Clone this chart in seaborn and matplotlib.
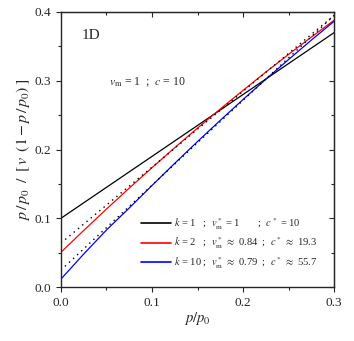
import numpy as np
import pandas as pd
import matplotlib
matplotlib.use("Agg")
import matplotlib.pyplot as plt
from matplotlib.ticker import MultipleLocator
import seaborn as sns

# === Data ===
x_pts = [0.0, 0.025, 0.05, 0.075, 0.1, 0.125, 0.15, 0.175, 0.2, 0.225, 0.25, 0.275, 0.3]
y_k1 = [0.100, 0.1225, 0.145, 0.1675, 0.190, 0.2125, 0.235, 0.2575, 0.280, 0.3025, 0.325, 0.3475, 0.370]
y_k2 = [0.0505, 0.0823, 0.1134, 0.1438, 0.1736, 0.2027, 0.2312, 0.2590, 0.2860, 0.3126, 0.3384, 0.3635, 0.3880]
y_k10 = [0.0116, 0.0480, 0.0830, 0.1150, 0.1477, 0.1800, 0.2116, 0.2425, 0.2727, 0.3022, 0.3309, 0.3591, 0.3865]

# apparent BET straight lines (dotted)
x_fit = [0.0, 0.3]
y_fit_k2 = [0.064, 0.395]
y_fit_k10 = [0.0247, 0.395]

labels = [
    r"$k$ = 1   ;  $v_\mathrm{m}^*$ = 1       ;  $c^*$ = 10",
    r"$k$ = 2   ;  $v_\mathrm{m}^*$ $\approx$ 0.84  ;  $c^*$ $\approx$ 19.3",
    r"$k$ = 10 ;  $v_\mathrm{m}^*$ $\approx$ 0.79  ;  $c^*$ $\approx$ 55.7",
]
colors = ["black", "red", "blue"]

df = pd.DataFrame({
    "x": x_pts * 3,
    "y": y_k1 + y_k2 + y_k10,
    "series": [labels[0]] * len(x_pts) + [labels[1]] * len(x_pts) + [labels[2]] * len(x_pts),
})

# === Style ===
sns.set_style("ticks")
plt.rcParams["font.family"] = ["Liberation Serif", "DejaVu Serif"]
plt.rcParams["mathtext.fontset"] = "stix"

fig = plt.figure(figsize=(3.54, 3.41), dpi=100)
ax = fig.add_axes([0.172, 0.158, 0.772, 0.807])

sns.lineplot(data=df, x="x", y="y", hue="series", palette=colors,
             linewidth=0.9, ax=ax, sort=False)
sns.lineplot(x=x_fit, y=y_fit_k2, color="black", linewidth=1.0,
             linestyle=(0, (1, 3)), ax=ax)
sns.lineplot(x=x_fit, y=y_fit_k10, color="black", linewidth=1.0,
             linestyle=(0, (1, 3)), ax=ax)

ax.set_xlim(0, 0.3)
ax.set_ylim(0, 0.4)
ax.xaxis.set_major_locator(MultipleLocator(0.1))
ax.xaxis.set_minor_locator(MultipleLocator(0.05))
ax.yaxis.set_major_locator(MultipleLocator(0.1))
ax.yaxis.set_minor_locator(MultipleLocator(0.05))
ax.xaxis.set_major_formatter(plt.FormatStrFormatter("%.1f"))
ax.yaxis.set_major_formatter(plt.FormatStrFormatter("%.1f"))
ax.tick_params(which="major", direction="out", length=3.5, width=0.8, labelsize=9.5)
ax.tick_params(which="minor", direction="out", length=2, width=0.8)

# inward ticks on top and right
top = ax.secondary_xaxis("top")
top.xaxis.set_major_locator(MultipleLocator(0.1))
top.xaxis.set_minor_locator(MultipleLocator(0.05))
top.tick_params(which="major", direction="in", length=3.5, width=0.8, labeltop=False)
top.tick_params(which="minor", direction="in", length=2, width=0.8)
right = ax.secondary_yaxis("right")
right.yaxis.set_major_locator(MultipleLocator(0.1))
right.yaxis.set_minor_locator(MultipleLocator(0.05))
right.tick_params(which="major", direction="in", length=3.5, width=0.8, labelright=False)
right.tick_params(which="minor", direction="in", length=2, width=0.8)
for sp in ax.spines.values():
    sp.set_linewidth(1.0)

ax.set_xlabel(r"$p/p_0$", fontsize=10.5, labelpad=1)
ax.set_ylabel(r"$p\,/\,p_0\;\;/\;\;[\,v\;\;(1\,\mathrm{-}\,p\,/\,p_0)\,]$",
              fontsize=11.5, labelpad=2)

ax.text(0.075, 0.915, "1D", transform=ax.transAxes, fontsize=11, va="center")
ax.text(0.175, 0.745, r"$v_\mathrm{m}$ = 1  ;  $c$ = 10", transform=ax.transAxes,
        fontsize=8.5, va="center")

leg = ax.legend(loc="lower left", bbox_to_anchor=(0.26, 0.025), frameon=False,
                fontsize=7.6, handlelength=2.8, handletextpad=0.3, labelspacing=0.32)
for line in leg.get_lines():
    line.set_linewidth(1.2)

fig.savefig("out.png", dpi=100)
